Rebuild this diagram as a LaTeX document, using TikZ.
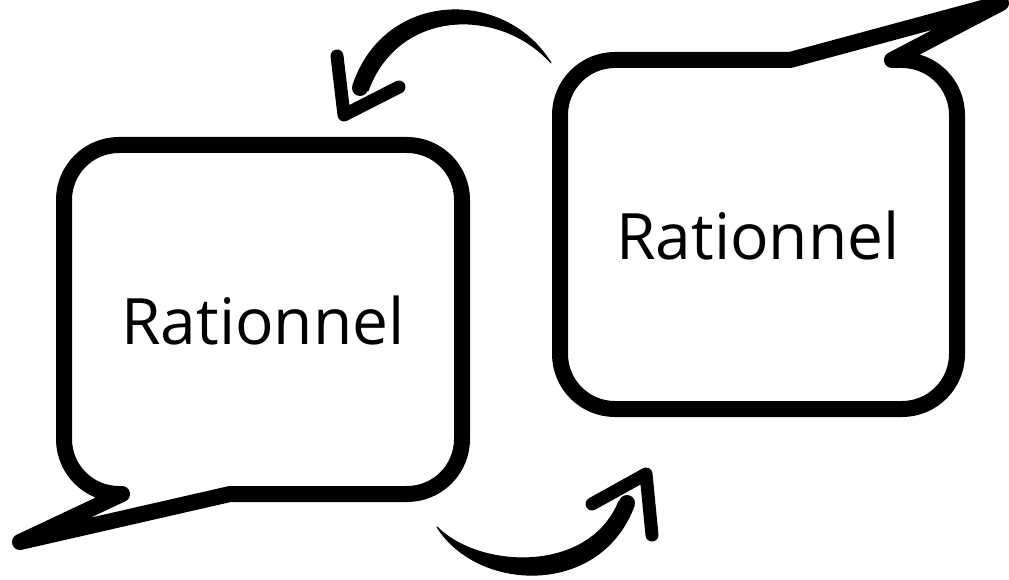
\documentclass[tikz,border=0pt]{standalone}
\usepackage{fontspec}
\setmainfont{Open Sans}
\begin{document}
\begin{tikzpicture}[x=1pt,y=-1pt,
  bubble/.style={draw=black,line width=16pt,line join=round,line cap=round,fill=white},
  label/.style={font=\fontsize{64}{70}\selectfont,inner sep=0pt},
  brush/.style={fill=black,draw=black,line width=1pt,line join=round},
  headstroke/.style={draw=black,line width=13pt,line cap=round,line join=round}]
\useasboundingbox (0,0) rectangle (1009,580);
% left bubble
\draw[bubble] (20,542) -- (122,494) -- (119,494)
  .. controls (88.6,494) and (64,469.4) .. (64,439) -- (64,200)
  .. controls (64,169.6) and (88.6,145) .. (119,145) -- (407,145)
  .. controls (437.4,145) and (462,169.6) .. (462,200) -- (462,439)
  .. controls (462,469.4) and (437.4,494) .. (407,494) -- (230,494) -- cycle;
\node[label] (l) at (263,320) {Rationnel};
% right bubble
\draw[bubble] (1001,3) -- (790,60) -- (615,60)
  .. controls (584.6,60) and (560,84.6) .. (560,115) -- (560,354)
  .. controls (560,384.4) and (584.6,409) .. (615,409) -- (902,409)
  .. controls (932.4,409) and (957,384.4) .. (957,354) -- (957,115)
  .. controls (957,84.6) and (932.4,60) .. (902,60) -- (892,60) -- cycle;
\node[label] (r) at (758,235) {Rationnel};
% top arrow
\coordinate (t1) at (551,63);
\fill[brush] (t1) .. controls (505,-12) and (385,-10) .. (353,85)
  -- (368,91) .. controls (398,8) and (500,6) .. (t1) -- cycle;
\fill (360,88) circle (8pt);
\coordinate (ha) at (337,56);
\coordinate (hb) at (344,115);
\coordinate (hc) at (399,87);
\draw[headstroke] (ha) -- (hb) -- (hc);
% bottom arrow
\coordinate (t2) at (437,527);
\fill[brush] (t2) .. controls (478,592) and (600,597) .. (634,506)
  -- (619,501) .. controls (590,574) and (480,570) .. (t2) -- cycle;
\fill (627,503) circle (8pt);
\coordinate (ga) at (592,504);
\coordinate (gb) at (646,474);
\coordinate (gc) at (652,535);
\draw[headstroke] (ga) -- (gb) -- (gc);
\end{tikzpicture}
\end{document}
